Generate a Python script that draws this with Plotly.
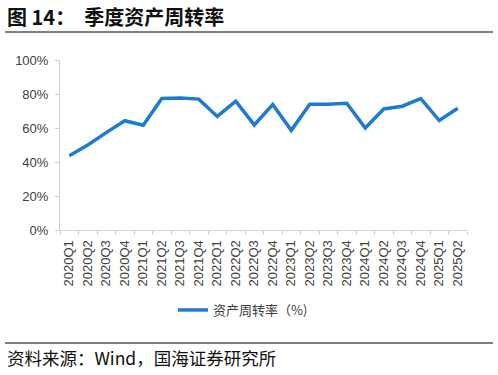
import plotly.graph_objects as go

quarters = ["2020Q1","2020Q2","2020Q3","2020Q4","2021Q1","2021Q2","2021Q3","2021Q4",
            "2022Q1","2022Q2","2022Q3","2022Q4","2023Q1","2023Q2","2023Q3","2023Q4",
            "2024Q1","2024Q2","2024Q3","2024Q4","2025Q1","2025Q2"]
turnover = [43.7, 50.0, 57.3, 64.3, 61.6, 77.3, 77.6, 77.0,
            66.8, 75.8, 61.8, 73.8, 58.6, 74.0, 74.0, 74.6,
            60.0, 71.2, 72.8, 77.3, 64.4, 71.6]
series_name = "资产周转率（%)"
title_text = "<b>图 14：  季度资产周转率</b>"
source_text = "资料来源：Wind，国海证券研究所"

FW, FH = 498, 375
L, R, T, B = 60, 467, 60, 230  # plot area in pixels
W, H = R - L, B - T
def px(x): return (x - L) / W
def py(y): return (B - y) / H

fig = go.Figure()
fig.add_trace(go.Scatter(
    x=quarters, y=[v / 100 for v in turnover], mode="lines", name=series_name,
    line=dict(color="#1e7bd4", width=3.5), showlegend=True))

fig.update_layout(
    width=FW, height=FH,
    margin=dict(l=L, r=FW - R, t=T, b=FH - B, autoexpand=False),
    paper_bgcolor="white", plot_bgcolor="white",
    font=dict(family="Noto Sans CJK SC, Liberation Sans, sans-serif", size=12, color="#404040"),
    showlegend=True,
    legend=dict(orientation="h", x=px(173), xanchor="left", y=py(310), yanchor="middle",
                font=dict(size=13, color="#404040"), itemwidth=30),
    xaxis=dict(type="category", range=[-0.5, len(quarters) - 0.5],
               showgrid=False, showline=True, linecolor="#d0d0d0",
               ticks="outside", tickson="boundaries", ticklen=4, tickcolor="#d0d0d0",
               tickangle=-90, automargin=False, ticklabelstandoff=4,
               tickfont=dict(family="Liberation Sans, Arial, sans-serif", size=13, color="#404040")),
    yaxis=dict(range=[0, 1], tickvals=[0, 0.2, 0.4, 0.6, 0.8, 1.0], tickformat=".0%",
               showgrid=False, showline=True, linecolor="#d0d0d0", zeroline=False,
               ticks="outside", ticklen=4, tickcolor="#d0d0d0", automargin=False,
               ticklabelstandoff=4,
               tickfont=dict(family="Liberation Sans, Arial, sans-serif", size=13, color="#404040")),
)

fig.add_shape(type="line", xref="paper", yref="paper", x0=px(5), x1=px(493), y0=py(32), y1=py(32),
              line=dict(color="#808080", width=2))
fig.add_shape(type="line", xref="paper", yref="paper", x0=px(5), x1=px(493), y0=py(343), y1=py(343),
              line=dict(color="#808080", width=2))
fig.add_annotation(text=title_text, xref="paper", yref="paper", x=px(5), y=py(16),
                   xanchor="left", yanchor="middle", showarrow=False,
                   font=dict(size=20, color="#111111", family="Noto Sans CJK SC, sans-serif"))
fig.add_annotation(text=source_text, xref="paper", yref="paper", x=px(5), y=py(357),
                   xanchor="left", yanchor="middle", showarrow=False,
                   font=dict(size=17.5, color="#111111", family="Noto Sans CJK SC, sans-serif"))

fig.write_html("out.html", config={"displayModeBar": False},
               post_script="document.body.style.margin='0';document.body.style.overflow='hidden';")
